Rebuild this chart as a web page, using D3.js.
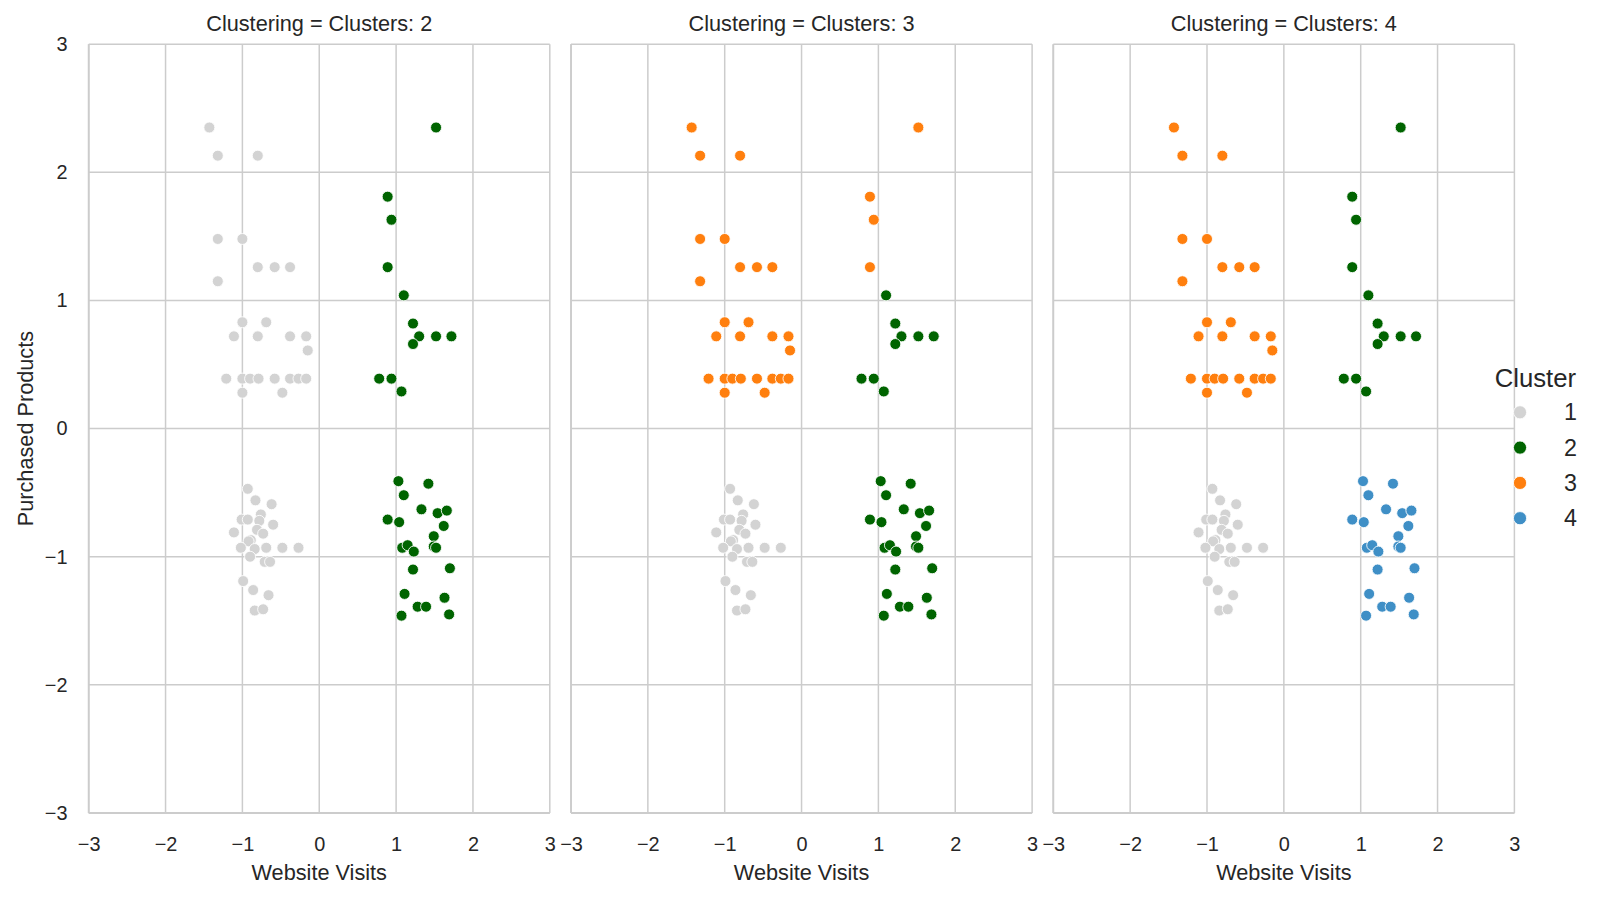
<!DOCTYPE html>
<html>
<head>
<meta charset="utf-8">
<script src="https://cdn.jsdelivr.net/npm/d3@7"></script>
<style>
  html, body { margin: 0; padding: 0; background: #ffffff; }
  svg { display: block; }
  text { font-family: "Liberation Sans", Arial, Helvetica, sans-serif; fill: #262626; }
</style>
</head>
<body>
<svg id="chart" width="1600" height="898"></svg>
<script>
// ---------------- data ----------------
const websiteVisits = [
  -1.43,-1.32,-0.80,-1.32,-1.00,-0.80,-0.58,-0.38,-1.32,-1.00,-0.69,-1.11,-0.80,-0.38,-0.17,-0.15,-1.21,-1.00,-0.90,-0.79,-0.58,-0.38,-0.27,-0.17,-1.00,-0.48,
  -0.93,-0.83,-0.62,-0.76,-1.01,-0.93,-0.78,-0.60,-1.11,-0.81,-0.73,-0.89,-0.92,-0.84,-1.02,-0.69,-0.48,-0.27,-0.90,-0.71,-0.64,-0.99,-0.86,-0.66,-0.84,-0.73,
  1.52,0.89,0.94,0.89,1.10,1.22,1.30,1.52,1.72,1.22,0.78,0.94,1.07,
  1.03,1.42,1.10,1.33,1.54,1.66,0.89,1.04,1.62,1.49,1.08,1.15,1.23,1.49,1.52,1.22,1.70,1.11,1.63,1.28,1.39,1.07,1.69
];
const purchasedProducts = [
  2.35,2.13,2.13,1.48,1.48,1.26,1.26,1.26,1.15,0.83,0.83,0.72,0.72,0.72,0.72,0.61,0.39,0.39,0.39,0.39,0.39,0.39,0.39,0.39,0.28,0.28,
  -0.47,-0.56,-0.59,-0.67,-0.71,-0.71,-0.72,-0.75,-0.81,-0.79,-0.82,-0.87,-0.88,-0.94,-0.93,-0.93,-0.93,-0.93,-1.00,-1.04,-1.04,-1.19,-1.26,-1.30,-1.42,-1.41,
  2.35,1.81,1.63,1.26,1.04,0.82,0.72,0.72,0.72,0.66,0.39,0.39,0.29,
  -0.41,-0.43,-0.52,-0.63,-0.66,-0.64,-0.71,-0.73,-0.76,-0.84,-0.93,-0.91,-0.96,-0.92,-0.93,-1.10,-1.09,-1.29,-1.32,-1.39,-1.39,-1.46,-1.45
];
const clusterK2 = [
  1,1,1,1,1,1,1,1,1,1,1,1,1,1,1,1,1,1,1,1,1,1,1,1,1,1,
  1,1,1,1,1,1,1,1,1,1,1,1,1,1,1,1,1,1,1,1,1,1,1,1,1,1,
  2,2,2,2,2,2,2,2,2,2,2,2,2,
  2,2,2,2,2,2,2,2,2,2,2,2,2,2,2,2,2,2,2,2,2,2,2
];
const clusterK3 = [
  3,3,3,3,3,3,3,3,3,3,3,3,3,3,3,3,3,3,3,3,3,3,3,3,3,3,
  1,1,1,1,1,1,1,1,1,1,1,1,1,1,1,1,1,1,1,1,1,1,1,1,1,1,
  3,3,3,3,2,2,2,2,2,2,2,2,2,
  2,2,2,2,2,2,2,2,2,2,2,2,2,2,2,2,2,2,2,2,2,2,2
];
const clusterK4 = [
  3,3,3,3,3,3,3,3,3,3,3,3,3,3,3,3,3,3,3,3,3,3,3,3,3,3,
  1,1,1,1,1,1,1,1,1,1,1,1,1,1,1,1,1,1,1,1,1,1,1,1,1,1,
  2,2,2,2,2,2,2,2,2,2,2,2,2,
  4,4,4,4,4,4,4,4,4,4,4,4,4,4,4,4,4,4,4,4,4,4,4
];
const panelTitles = ["Clustering = Clusters: 2", "Clustering = Clusters: 3", "Clustering = Clusters: 4"];
const panelLabels = [clusterK2, clusterK3, clusterK4];
const legendClusters = [1, 2, 3, 4];
const clusterColors = ["#d3d3d3", "#006400", "#ff7f0e", "#3f8fc6"];
const tickValues = [-3, -2, -1, 0, 1, 2, 3];
const xTitle = "Website Visits";
const yTitle = "Purchased Products";
const legendTitle = "Cluster";

// ---------------- layout ----------------
const svg = d3.select("#chart");
svg.append("rect").attr("width", 1600).attr("height", 898).attr("fill", "#ffffff");

const panelLeft = [88.7, 571.0, 1053.3];
const panelW = 461.1;
const plotTop = 44.2, plotBottom = 813.0;
const gridColor = "#cccccc";
const fontTick = 19.9, fontLabel = 21.7;

const x = d3.scaleLinear().domain([-3, 3]).range([0, panelW]);
const y = d3.scaleLinear().domain([-3, 3]).range([plotBottom, plotTop]);
const color = d3.scaleOrdinal().domain(legendClusters).range(clusterColors);

panelTitles.forEach((title, p) => {
  const g = svg.append("g").attr("transform", `translate(${panelLeft[p]},0)`);

  // grid
  g.append("g").selectAll("line").data(tickValues).join("line")
    .attr("x1", d => x(d)).attr("x2", d => x(d))
    .attr("y1", plotTop).attr("y2", plotBottom)
    .attr("stroke", gridColor).attr("stroke-width", 1.5);
  g.append("g").selectAll("line").data(tickValues).join("line")
    .attr("x1", 0).attr("x2", panelW)
    .attr("y1", d => y(d)).attr("y2", d => y(d))
    .attr("stroke", gridColor).attr("stroke-width", 1.5);

  // spines (left, bottom)
  g.append("line").attr("x1", 0).attr("x2", 0).attr("y1", plotTop).attr("y2", plotBottom)
    .attr("stroke", gridColor).attr("stroke-width", 1.8);
  g.append("line").attr("x1", 0).attr("x2", panelW).attr("y1", plotBottom).attr("y2", plotBottom)
    .attr("stroke", gridColor).attr("stroke-width", 1.8);

  // x axis tick labels
  const xa = g.append("g").attr("transform", `translate(0,${plotBottom})`)
    .call(d3.axisBottom(x).tickValues(tickValues).tickSize(0).tickPadding(23.6).tickFormat(d3.format("d")));
  xa.select(".domain").remove();
  xa.attr("font-family", null).attr("font-size", null);
  xa.selectAll("text").attr("font-size", fontTick).attr("fill", "#262626");

  // y axis tick labels on first panel only
  if (p === 0) {
    const ya = g.append("g")
      .call(d3.axisLeft(y).tickValues(tickValues).tickSize(0).tickPadding(21.2).tickFormat(d3.format("d")));
    ya.select(".domain").remove();
    ya.attr("font-family", null).attr("font-size", null);
    ya.selectAll("text").attr("font-size", fontTick).attr("fill", "#262626");
    svg.append("text")
      .attr("transform", `translate(33,${(plotTop + plotBottom) / 2}) rotate(-90)`)
      .attr("text-anchor", "middle")
      .attr("font-size", fontLabel)
      .text(yTitle);
  }

  // points
  const labels = panelLabels[p];
  g.append("g").selectAll("circle").data(websiteVisits.map((v, i) => i)).join("circle")
    .attr("cx", i => x(websiteVisits[i]))
    .attr("cy", i => y(purchasedProducts[i]))
    .attr("r", 5.5)
    .attr("fill", i => color(labels[i]))
    .attr("stroke", "#ffffff")
    .attr("stroke-width", 0.87);

  // title
  g.append("text").attr("x", panelW / 2).attr("y", 31)
    .attr("text-anchor", "middle").attr("font-size", fontLabel).text(title);

  // x label
  g.append("text").attr("x", panelW / 2).attr("y", 880)
    .attr("text-anchor", "middle").attr("font-size", fontLabel).text(xTitle);
});

// legend
const lg = svg.append("g");
lg.append("text").attr("x", 1494.7).attr("y", 386.7).attr("font-size", 25.7).text(legendTitle);
legendClusters.forEach((c, i) => {
  const cy = 412.3 + i * 35.3;
  lg.append("circle").attr("cx", 1520).attr("cy", cy).attr("r", 6.6)
    .attr("fill", color(c)).attr("stroke", "#ffffff").attr("stroke-width", 0.87);
  lg.append("text").attr("x", 1564).attr("y", cy).attr("dy", "0.35em")
    .attr("font-size", 23.3).text(String(c));
});
</script>
</body>
</html>
